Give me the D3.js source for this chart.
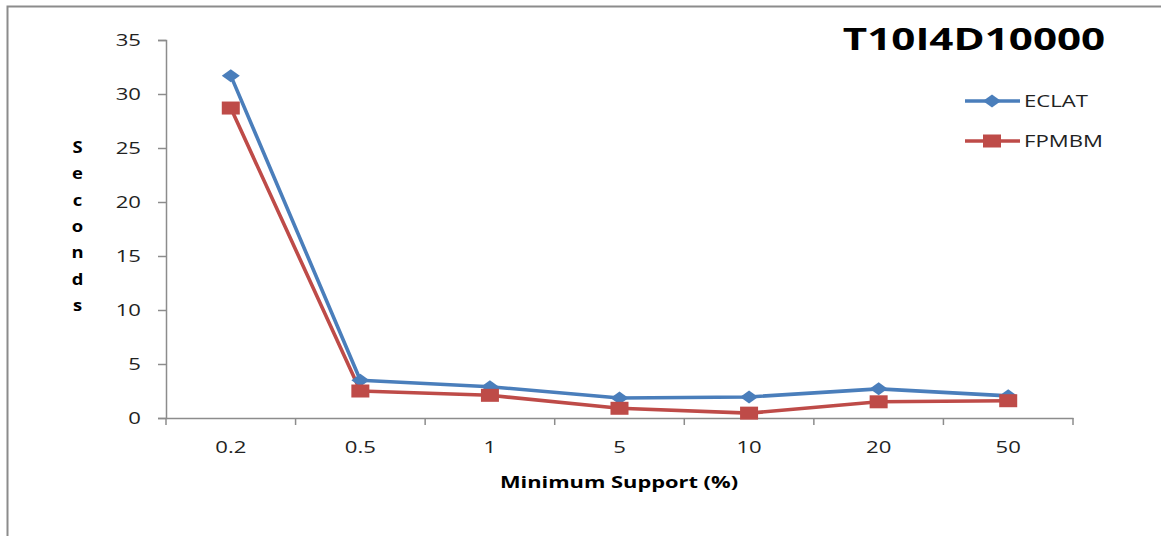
<!DOCTYPE html>
<html><head><meta charset="utf-8">
<script src="https://cdn.jsdelivr.net/npm/d3@7"></script>
<style>body{margin:0;background:#fff}svg{display:block}text{font-family:"Open Sans","Liberation Sans",sans-serif}</style>
</head><body><svg id="c" width="1161" height="536"></svg>
<script>
const categories = ["0.2","0.5","1","5","10","20","50"];
const eclat = [31.7,3.5,2.9,1.85,1.95,2.7,2.05];
const fpmbm = [28.7,2.5,2.1,0.9,0.45,1.5,1.6];
const yTicks = [0,5,10,15,20,25,30,35];
const seriesNames = ["ECLAT","FPMBM"];

const svg = d3.select("#c");
svg.append("rect").attr("x",7.5).attr("y",6.5).attr("width",1160).attr("height",540)
  .attr("fill","#fff").attr("stroke","#8c8c8c").attr("stroke-width",2);

const SX = 1.38;
function txt(g,x,y,s,opt){
  opt=opt||{};
  return g.append("text").attr("transform",`translate(${x},${y}) scale(${opt.sx||SX},1)`)
    .attr("text-anchor",opt.anchor||"middle").attr("font-size",opt.fs||16)
    .attr("font-weight",opt.bold?"bold":"normal").attr("fill",opt.fill||"#222").text(s);
}

const x0=166,x1=1073,yTop=40,yBot=418;
const x = d3.scaleBand().domain(categories).range([x0,x1]);
const y = d3.scaleLinear().domain([0,35]).range([yBot,yTop]);
const axisColor="#8c8c8c";

// y axis
const ya = svg.append("g").attr("transform",`translate(${x0},0)`)
  .call(d3.axisLeft(y).tickValues(yTicks).tickSize(8).tickFormat(""));
ya.select(".domain").attr("stroke",axisColor).attr("stroke-width",1.5);
ya.selectAll(".tick line").attr("stroke",axisColor).attr("stroke-width",1.5);
const ylg = svg.append("g");
yTicks.forEach(t=>txt(ylg,141,y(t)+6,String(t),{anchor:"end",fs:16}));

// x axis
const xa = svg.append("g").attr("transform",`translate(0,${yBot})`)
  .call(d3.axisBottom(x).tickSize(0).tickFormat(""));
xa.select(".domain").attr("stroke",axisColor).attr("stroke-width",1.5);
const bounds = categories.map(c=>x(c)).concat([x1]);
svg.append("g").selectAll("line").data(bounds).join("line")
  .attr("x1",d=>d).attr("x2",d=>d).attr("y1",yBot).attr("y2",yBot+7)
  .attr("stroke",axisColor).attr("stroke-width",1.5);
const cx = c => x(c)+x.bandwidth()/2;
const xlg = svg.append("g");
categories.forEach(c=>txt(xlg,cx(c),453,c,{fs:16}));

const colors = ["#4a7ebb","#be4b48"];
const data=[eclat,fpmbm];
const line = d3.line().x((d,i)=>cx(categories[i])).y(d=>y(d));
data.forEach((s,k)=>{
  svg.append("path").datum(s).attr("d",line).attr("fill","none")
    .attr("stroke",colors[k]).attr("stroke-width",3.6).attr("stroke-linejoin","round");
});
function marker(g,k,px,py){
  if(k===0){
    g.append("path").attr("d",`M${px-9},${py}L${px},${py-6.5}L${px+9},${py}L${px},${py+6.5}Z`).attr("fill",colors[0]);
  } else {
    g.append("rect").attr("x",px-9).attr("y",py-6.5).attr("width",18).attr("height",13).attr("fill",colors[1]);
  }
}
const mg = svg.append("g");
data.forEach((s,k)=>s.forEach((v,i)=>marker(mg,k,cx(categories[i]),y(v))));

// title
txt(svg,974,50,"T10I4D10000",{fs:31,bold:true,fill:"#000",sx:1.36});

// legend
const lg = svg.append("g");
seriesNames.forEach((n,k)=>{
  const ly = 101+k*40;
  lg.append("line").attr("x1",965).attr("x2",1020).attr("y1",ly).attr("y2",ly)
    .attr("stroke",colors[k]).attr("stroke-width",3.6);
  marker(lg,k,992,ly);
  txt(lg,1024,ly+6,n,{anchor:"start",fs:16.4,sx:1.35});
});

// y label
const yl = "Seconds".split("");
const ylab = svg.append("g");
yl.forEach((d,i)=>txt(ylab,77.5,153+i*26.3,d,{fs:16,bold:true,fill:"#000",sx:1.15}));

// x label
txt(svg,619,488,"Minimum Support (%)",{fs:16.8,bold:true,fill:"#000",sx:1.3});
</script></body></html>
